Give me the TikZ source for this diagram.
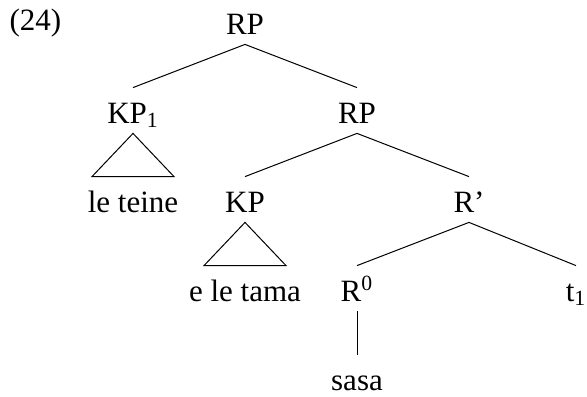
\documentclass[tikz,border=0pt]{standalone}
\usepackage{fontspec}
\setmainfont{Liberation Serif}
\usetikzlibrary{positioning}
\tikzset{
  cat/.style = {font=\fontsize{15.5}{18}\selectfont,text height=12.5pt,text depth=0pt,inner xsep=0pt,inner ysep=5pt},
  branch/.style = {black,line width=0.5pt},
  tri/.style = {black,line width=0.5pt,line join=miter}
}
\newlength{\hgap}
\setlength{\hgap}{56pt}
\newlength{\vgap}
\setlength{\vgap}{44.5pt}
\newlength{\trihalf}
\setlength{\trihalf}{20.5pt}

\begin{document}
\begin{tikzpicture}[on grid]
\useasboundingbox (0,0) rectangle (293.5pt,-198pt);

\node[cat,anchor=base] (ex) at (17.75pt,-15pt) {(24)};
\node[cat,anchor=base] (rp) at (122.5pt,-17pt) {RP};

\node[cat,below left=\vgap and \hgap of rp] (kpa) {KP\textsubscript{1}};
\node[cat,below right=\vgap and \hgap of rp] (rpb) {RP};
\path (rp.south) edge[branch] (kpa.north) edge[branch] (rpb.north);

\node[cat,below=\vgap of kpa] (teine) {le teine};
\draw[tri] (kpa.south) -- ([xshift=-\trihalf]teine.north) -- ([xshift=\trihalf]teine.north) -- cycle;

\node[cat,below left=\vgap and \hgap of rpb] (kpb) {KP};
\node[cat,below right=\vgap and \hgap of rpb] (rbar) {R’};
\path (rpb.south) edge[branch] (kpb.north) edge[branch] (rbar.north);

\node[cat,below=\vgap of kpb] (tama) {e le tama};
\draw[tri] (kpb.south) -- ([xshift=-\trihalf]tama.north) -- ([xshift=\trihalf]tama.north) -- cycle;

\node[cat,below left=\vgap and \hgap of rbar] (rzero) {R\textsuperscript{0}};
\node[cat,below right=\vgap and \hgap of rbar,xshift=-2.5pt] (trace) {t\textsubscript{1}};
\path (rbar.south) edge[branch] (rzero.north) edge[branch] (trace.north);

\node[cat,below=\vgap of rzero] (sasa) {sasa};
\draw[branch] (rzero.south) -- (sasa.north);
\end{tikzpicture}
\end{document}
